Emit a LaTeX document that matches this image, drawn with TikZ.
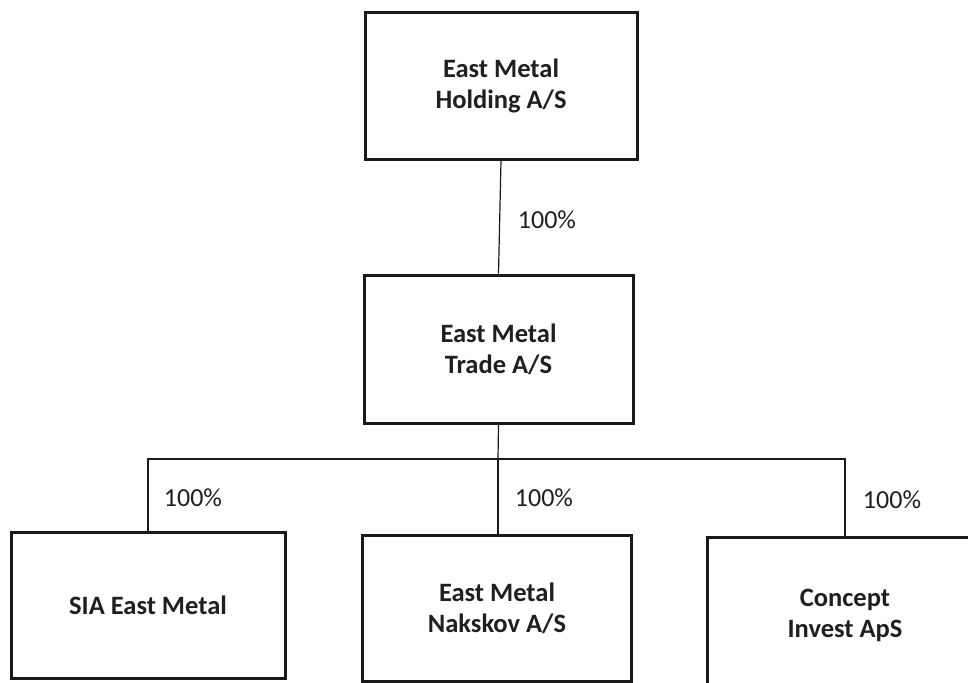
\documentclass[tikz,border=0pt]{standalone}
\usepackage{fontspec}
\setmainfont{Carlito}
\begin{document}
\begin{tikzpicture}[x=1pt,y=-1pt,
  orgbox/.style={draw=black!90, line width=3pt, fill=white, inner sep=0pt, align=center,
    font=\fontsize{26.5}{31}\selectfont\bfseries, text=black!88},
  link/.style={draw=black!90, line width=1.2pt},
  pct/.style={font=\fontsize{26}{30}\selectfont, text=black!88, inner sep=0pt}]
\useasboundingbox (0,0) rectangle (968,682);
\node[orgbox, minimum width=272pt, minimum height=146pt] (hold) at (501,86) {East Metal\\Holding A/S};
\node[orgbox, minimum width=269pt, minimum height=148pt] (trade) at (498.5,349) {East Metal\\Trade A/S};
\node[orgbox, minimum width=274pt, minimum height=146pt] (sia) at (148,605) {SIA East Metal};
\node[orgbox, minimum width=269pt, minimum height=146pt] (nak) at (497,608) {East Metal\\Nakskov A/S};
\node[orgbox, minimum width=276pt, minimum height=156pt] (conc) at (845,615) {Concept\\Invest ApS};
\coordinate (bus) at (498,459);
\draw[link] (hold.south) -- (trade.north);
\draw[link] (trade.south) -- (bus);
\draw[link] (bus) -| (sia.north);
\draw[link] (bus) -| (conc.north);
\draw[link] (bus) -- (bus |- nak.north);
\node[pct] (p0) at (547,220) {100\%};
\node[pct] (p1) at (193,498) {100\%};
\node[pct] (p2) at (544,498) {100\%};
\node[pct] (p3) at (892,500) {100\%};
\end{tikzpicture}
\end{document}
